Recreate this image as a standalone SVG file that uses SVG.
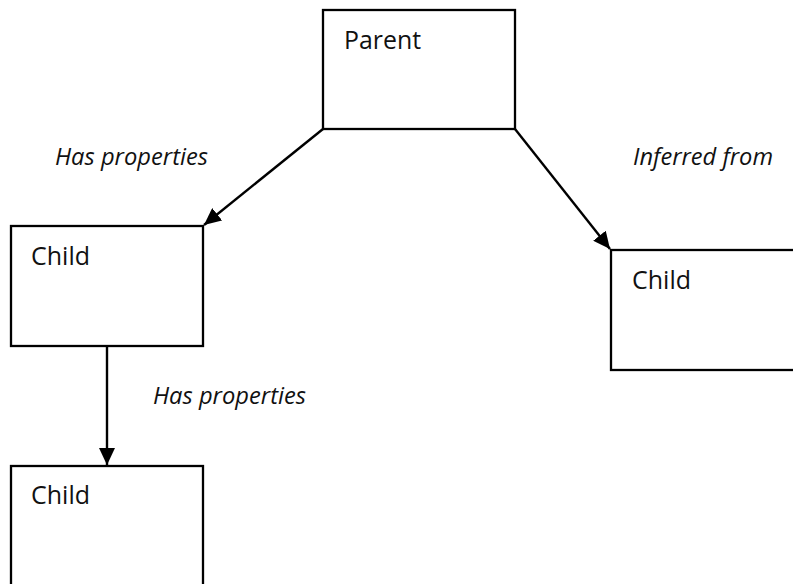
<svg xmlns="http://www.w3.org/2000/svg" width="793" height="584" viewBox="0 0 793 584">
  <style>
    .box { fill: #ffffff; stroke: #000000; stroke-width: 2.3; }
    .name { font-family: "Open Sans", "Liberation Sans", sans-serif; font-size: 25px; fill: #111111; }
    .lbl { font-family: "Open Sans", "Liberation Sans", sans-serif; font-size: 23px; font-style: italic; fill: #111111; }
    .edge { stroke: #000000; stroke-width: 2.4; fill: none; marker-end: url(#head); }
  </style>
  <defs>
    <marker id="head" markerUnits="userSpaceOnUse" markerWidth="18" markerHeight="16" refX="17" refY="8" orient="auto">
      <path d="M0,0 L17,8 L0,16 Z" fill="#000000"/>
    </marker>
  </defs>
  <rect width="793" height="584" fill="#ffffff"/>

  <g id="parent">
    <rect class="box" x="323" y="10" width="192" height="119"/>
    <text class="name" x="344" y="49" textLength="77" lengthAdjust="spacingAndGlyphs">Parent</text>
  </g>

  <g id="child-left">
    <rect class="box" x="11" y="226" width="192" height="120"/>
    <text class="name" x="31" y="265" textLength="59" lengthAdjust="spacingAndGlyphs">Child</text>
  </g>

  <g id="child-right">
    <rect class="box" x="611" y="250" width="190" height="120"/>
    <text class="name" x="632" y="289" textLength="59" lengthAdjust="spacingAndGlyphs">Child</text>
  </g>

  <g id="child-bottom">
    <rect class="box" x="11" y="466" width="192" height="130"/>
    <text class="name" x="31" y="504" textLength="59" lengthAdjust="spacingAndGlyphs">Child</text>
  </g>

  <g id="connectors">
    <line class="edge" x1="323" y1="129" x2="204" y2="225"/>
    <line class="edge" x1="515" y1="129" x2="610" y2="249"/>
    <line class="edge" x1="107" y1="346" x2="107" y2="465"/>
    <text class="lbl" x="55" y="165" textLength="153" lengthAdjust="spacingAndGlyphs">Has properties</text>
    <text class="lbl" x="633" y="165" textLength="140" lengthAdjust="spacingAndGlyphs">Inferred from</text>
    <text class="lbl" x="153" y="404" textLength="153" lengthAdjust="spacingAndGlyphs">Has properties</text>
  </g>
</svg>
